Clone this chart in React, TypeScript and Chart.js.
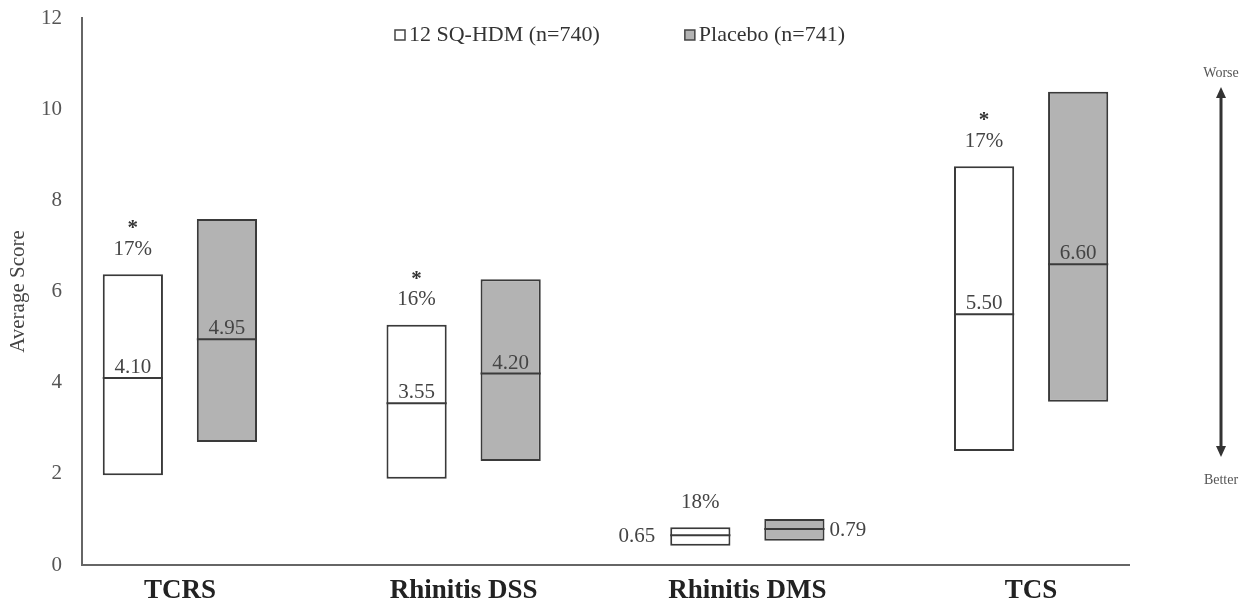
import React, { useEffect, useRef } from 'react';
import { Chart, registerables } from 'chart.js';

Chart.register(...registerables);

const categories = ['TCRS', 'Rhinitis DSS', 'Rhinitis DMS', 'TCS'];
const seriesLabels = ['12 SQ-HDM (n=740)', 'Placebo (n=741)'];
const hdmLow = [1.97, 1.89, 0.42, 2.5];
const hdmHigh = [6.38, 5.27, 0.83, 8.75];
const hdmMedian = [4.1, 3.55, 0.65, 5.5];
const placeboLow = [2.7, 2.28, 0.53, 3.58];
const placeboHigh = [7.59, 6.27, 1.01, 10.38];
const placeboMedian = [4.95, 4.2, 0.79, 6.6];
const reductionLabels = ['17%', '16%', '18%', '17%'];
const significant = [true, true, false, true];
const yTicks = [0, 2, 4, 6, 8, 10, 12];

const SERIF = '"Liberation Serif", "Times New Roman", serif';

const annotations = {
  id: 'annotations',
  afterDatasetsDraw(chart: any) {
    const ctx = chart.ctx;
    const yScale = chart.scales.y;
    const area = chart.chartArea;
    const medians = [hdmMedian, placeboMedian];
    ctx.save();
    medians.forEach((med, di) => {
      const meta = chart.getDatasetMeta(di);
      meta.data.forEach((bar: any, i: number) => {
        const p = bar.getProps(['x', 'y', 'base', 'width'], true);
        const l = p.x - p.width / 2;
        const r = p.x + p.width / 2;
        const my = yScale.getPixelForValue(med[i]);
        ctx.strokeStyle = '#3a3a3a';
        ctx.lineWidth = 2;
        ctx.beginPath();
        ctx.moveTo(l, my);
        ctx.lineTo(r, my);
        ctx.stroke();
        const h = Math.abs(p.base - p.y);
        const topPx = Math.min(p.base, p.y);
        ctx.font = '21px ' + SERIF;
        ctx.fillStyle = '#444';
        const txt = med[i].toFixed(2);
        if (h < 40) {
          ctx.textBaseline = 'middle';
          if (di === 0) {
            ctx.textAlign = 'right';
            ctx.fillText(txt, l - 15, my + 1);
          } else {
            ctx.textAlign = 'left';
            ctx.fillText(txt, r + 5, my + 1);
          }
        } else {
          ctx.textAlign = 'center';
          ctx.textBaseline = 'alphabetic';
          ctx.fillText(txt, p.x, my - 5);
        }
        if (di === 0) {
          ctx.textAlign = 'center';
          ctx.textBaseline = 'middle';
          ctx.fillText(reductionLabels[i], p.x, topPx - 25);
          if (significant[i]) {
            ctx.textBaseline = 'alphabetic';
            ctx.fillStyle = '#333';
            ctx.font = 'bold 21px ' + SERIF;
            ctx.fillText('*', p.x, topPx - 40);
          }
        }
      });
    });

    // legend
    ctx.font = '22px ' + SERIF;
    ctx.textAlign = 'left';
    ctx.textBaseline = 'middle';
    let lx = 395;
    const ly = 35;
    chart.data.datasets.forEach((ds: any) => {
      ctx.fillStyle = ds.backgroundColor;
      ctx.fillRect(lx, ly - 5, 10, 10);
      ctx.strokeStyle = '#444';
      ctx.lineWidth = 1.5;
      ctx.strokeRect(lx, ly - 5, 10, 10);
      ctx.fillStyle = '#333';
      ctx.fillText(ds.label, lx + 14, ly);
      lx += 14 + ctx.measureText(ds.label).width + 85;
    });

    // worse / better arrow
    const ax = area.right + 92;
    const topTip = 87;
    const botTip = 457;
    ctx.strokeStyle = '#333';
    ctx.fillStyle = '#333';
    ctx.lineWidth = 3;
    ctx.beginPath();
    ctx.moveTo(ax, topTip + 8);
    ctx.lineTo(ax, botTip - 8);
    ctx.stroke();
    ctx.beginPath();
    ctx.moveTo(ax, topTip);
    ctx.lineTo(ax - 5, topTip + 11);
    ctx.lineTo(ax + 5, topTip + 11);
    ctx.closePath();
    ctx.fill();
    ctx.beginPath();
    ctx.moveTo(ax, botTip);
    ctx.lineTo(ax - 5, botTip - 11);
    ctx.lineTo(ax + 5, botTip - 11);
    ctx.closePath();
    ctx.fill();
    ctx.font = '14px ' + SERIF;
    ctx.fillStyle = '#555';
    ctx.textAlign = 'center';
    ctx.textBaseline = 'middle';
    ctx.fillText('Worse', ax, 73);
    ctx.fillText('Better', ax, 480);
    ctx.restore();
  },
};

export default function App() {
  const ref = useRef<HTMLCanvasElement | null>(null);
  useEffect(() => {
    if (!ref.current) return;
    const chart = new Chart(ref.current, {
      type: 'bar',
      data: {
        datasets: [
          {
            label: seriesLabels[0],
            data: categories.map((_, i) => ({ x: i + 1, y: [hdmLow[i], hdmHigh[i]] })) as any,
            backgroundColor: '#ffffff',
            borderColor: '#3a3a3a',
            borderWidth: 2,
            borderSkipped: false,
          },
          {
            label: seriesLabels[1],
            data: categories.map((_, i) => ({ x: i + 1, y: [placeboLow[i], placeboHigh[i]] })) as any,
            backgroundColor: '#b3b3b3',
            borderColor: '#3a3a3a',
            borderWidth: 2,
            borderSkipped: false,
          },
        ],
      },
      options: {
        responsive: false,
        animation: false,
        devicePixelRatio: 1,
        barPercentage: 0.64,
        categoryPercentage: 0.663,
        layout: { padding: { top: 18, right: 121, left: 0, bottom: 0 } },
        plugins: {
          legend: { display: false },
          tooltip: { enabled: false },
        },
        scales: {
          x: {
            type: 'linear',
            offset: false,
            min: 0.655,
            max: 4.345,
            grid: { display: false, drawTicks: false, offset: false },
            border: { display: true, color: '#666', width: 2 },
            afterBuildTicks: (scale: any) => {
              scale.ticks = categories.map((_, i) => ({ value: i + 1 }));
            },
            afterFit: (scale: any) => {
              scale.height = 39;
              scale.paddingTop = 0;
              scale.paddingBottom = 0;
            },
            ticks: {
              callback: (v: any) => categories[Math.round(Number(v)) - 1] ?? '',
              font: { family: SERIF, size: 27, weight: 'bold' },
              color: '#222',
              padding: 10,
              maxRotation: 0,
              autoSkip: false,
            },
          },
          y: {
            min: 0,
            max: 12,
            grid: { display: false, drawTicks: false },
            border: { display: true, color: '#666', width: 2 },
            afterBuildTicks: (scale: any) => {
              scale.ticks = yTicks.map((v) => ({ value: v }));
            },
            afterFit: (scale: any) => {
              scale.width = 82;
              scale.paddingTop = 0;
              scale.paddingBottom = 0;
            },
            ticks: {
              font: { family: SERIF, size: 21 },
              color: '#555',
              padding: 20,
            },
            title: {
              display: true,
              text: 'Average Score',
              font: { family: SERIF, size: 21 },
              color: '#444',
              padding: { top: 6 },
            },
          },
        },
      } as any,
      plugins: [annotations],
    });
    return () => chart.destroy();
  }, []);
  return (
    <div style={{ position: 'absolute', left: 0, top: 0, width: 1250, height: 604, background: '#fff' }}>
      <canvas ref={ref} width={1250} height={604} />
    </div>
  );
}
